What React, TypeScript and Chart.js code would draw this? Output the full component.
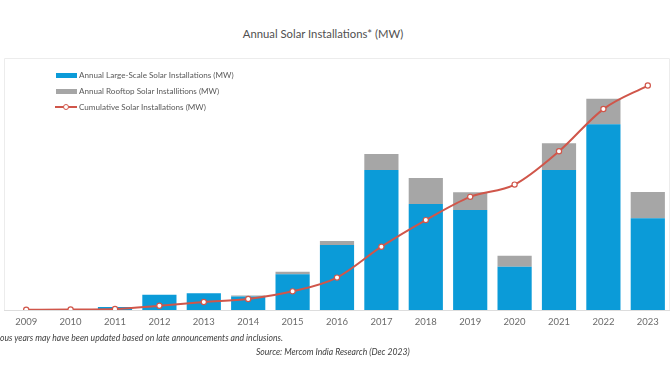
import React, { useEffect, useRef } from "react";
import { Chart, registerables } from "chart.js";

Chart.register(...registerables);

const years = ["2009", "2010", "2011", "2012", "2013", "2014", "2015", "2016", "2017", "2018", "2019", "2020", "2021", "2022", "2023"];
const largeScale = [0, 0, 190, 1000, 1100, 900, 2360, 4300, 9250, 7000, 6610, 2860, 9250, 12270, 6060];
const rooftop = [0, 0, 0, 0, 0, 50, 170, 260, 1060, 1720, 1170, 730, 1770, 1680, 1740];
const cumulative = [100, 150, 350, 1400, 2600, 3600, 6100, 10600, 20700, 29400, 37000, 41000, 51900, 65700, 73400];

const titleText = "Annual Solar Installations* (MW)";
const legendLabels = [
  "Annual Large-Scale Solar Installations (MW)",
  "Annual Rooftop Solar Installitions (MW)",
  "Cumulative Solar Installations (MW)",
];
const footnoteText = "ous years may have been updated based on late announcements and inclusions.";
const sourceText = "Source: Mercom India Research (Dec 2023)";

const BLUE = "#0b9bd8";
const GRAY = "#a6a6a6";
const RED = "#d0564a";
const FONT = "Lato, 'Open Sans', sans-serif";

const boxPlugin = {
  id: "boxPlugin",
  beforeDatasetsDraw(chart: any) {
    const { ctx, chartArea } = chart;
    ctx.save();
    ctx.strokeStyle = "#ececec";
    ctx.lineWidth = 1;
    ctx.beginPath();
    ctx.moveTo(chartArea.left + 0.5, chartArea.bottom);
    ctx.lineTo(chartArea.left + 0.5, chartArea.top + 0.5);
    ctx.lineTo(chartArea.right - 0.5, chartArea.top + 0.5);
    ctx.lineTo(chartArea.right - 0.5, chartArea.bottom);
    ctx.stroke();
    ctx.restore();
  },
};

export default function App() {
  const ref = useRef<HTMLCanvasElement | null>(null);
  useEffect(() => {
    if (!ref.current) return;
    const chart = new Chart(ref.current, {
      type: "bar",
      data: {
        labels: years,
        datasets: [
          {
            type: "line",
            label: legendLabels[2],
            data: cumulative,
            yAxisID: "y2",
            borderColor: RED,
            borderWidth: 2,
            pointRadius: 2.6,
            pointBackgroundColor: "#ffffff",
            pointBorderColor: RED,
            pointBorderWidth: 1.2,
            cubicInterpolationMode: "monotone",
            order: 0,
          } as any,
          {
            label: legendLabels[0],
            data: largeScale,
            backgroundColor: BLUE,
            yAxisID: "y",
            stack: "a",
            barPercentage: 0.77,
            categoryPercentage: 1,
            order: 1,
          },
          {
            label: legendLabels[1],
            data: rooftop,
            backgroundColor: GRAY,
            yAxisID: "y",
            stack: "a",
            barPercentage: 0.77,
            categoryPercentage: 1,
            order: 1,
          },
        ],
      },
      options: {
        animation: false,
        responsive: false,
        maintainAspectRatio: false,
        layout: { padding: 0, autoPadding: false } as any,
        plugins: {
          legend: { display: false },
          title: { display: false },
          tooltip: { enabled: false },
        },
        scales: {
          x: {
            stacked: true,
            grid: { display: false, drawTicks: false },
            border: { display: true, color: "#dddddd", width: 1 },
            ticks: {
              color: "#6b6b6b",
              font: { family: FONT, size: 9.5 },
              padding: 6,
              maxRotation: 0,
            },
            afterFit(scale: any) {
              scale.height = 24;
            },
          },
          y: {
            stacked: true,
            display: false,
            min: 0,
            max: 16650,
          },
          y2: {
            display: false,
            min: 0,
            max: 82400,
          },
        },
      },
      plugins: [boxPlugin],
    });
    return () => chart.destroy();
  }, []);

  const legendText: React.CSSProperties = {
    position: "absolute",
    left: 79,
    fontFamily: FONT,
    fontSize: 8.1,
    color: "#595959",
    whiteSpace: "nowrap",
    lineHeight: "10px",
  };

  return (
    <div style={{ position: "fixed", left: 0, top: 0, width: 672, height: 372, background: "#ffffff", overflow: "hidden" }}>
      <div
        style={{
          position: "absolute",
          left: 0,
          width: 646,
          top: 27,
          textAlign: "center",
          fontFamily: FONT,
          fontSize: 11.3,
          color: "#505050",
          lineHeight: "14px",
        }}
      >
        {titleText}
      </div>
      <canvas ref={ref} width={666} height={276} style={{ position: "absolute", left: 4, top: 58, width: 666, height: 276 }} />
      <div style={{ position: "absolute", left: 56, top: 73, width: 21, height: 5, background: BLUE }} />
      <div style={{ ...legendText, top: 70 }}>{legendLabels[0]}</div>
      <div style={{ position: "absolute", left: 56, top: 89, width: 21, height: 5, background: GRAY }} />
      <div style={{ ...legendText, top: 86 }}>{legendLabels[1]}</div>
      <div style={{ position: "absolute", left: 55, top: 106, width: 22, height: 2, background: RED }} />
      <div
        style={{
          position: "absolute",
          left: 63,
          top: 104,
          width: 4,
          height: 4,
          borderRadius: "50%",
          border: `1.2px solid ${RED}`,
          background: "#ffffff",
        }}
      />
      <div style={{ ...legendText, top: 102 }}>{legendLabels[2]}</div>
      <div
        style={{
          position: "absolute",
          left: 0,
          top: 333,
          fontFamily: FONT,
          fontStyle: "italic",
          fontSize: 8.6,
          color: "#404040",
          whiteSpace: "nowrap",
          lineHeight: "10px",
        }}
      >
        {footnoteText}
      </div>
      <div
        style={{
          position: "absolute",
          left: 256,
          top: 347,
          fontFamily: FONT,
          fontStyle: "italic",
          fontSize: 8.6,
          color: "#404040",
          whiteSpace: "nowrap",
          lineHeight: "10px",
        }}
      >
        {sourceText}
      </div>
    </div>
  );
}
